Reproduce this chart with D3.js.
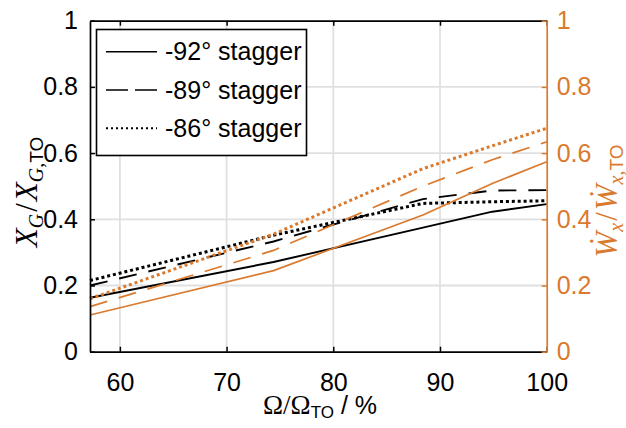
<!DOCTYPE html>
<html>
<head>
<meta charset="utf-8">
<script src="https://cdn.jsdelivr.net/npm/d3@7"></script>
<style>
  body { margin: 0; background: #fff; }
  svg { display: block; }
  text { font-family: "Liberation Sans", Arial, Helvetica, sans-serif; }
</style>
</head>
<body>
<svg id="chart" width="626" height="428"></svg>
<script>
// Rotor speed (% of take-off speed) at each operating point
const speedPct = [57.2, 74.4, 88.4, 94.9, 100];

// Normalised X_G (left axis) per stagger angle
const xg92 = [0.163, 0.271, 0.375, 0.423, 0.446];
const xg89 = [0.200, 0.333, 0.461, 0.487, 0.488];
const xg86 = [0.215, 0.352, 0.448, 0.453, 0.456];

// Normalised mass-flow rate W_x (right axis) per stagger angle
const wx92 = [0.111, 0.245, 0.413, 0.508, 0.574];
const wx89 = [0.136, 0.306, 0.500, 0.580, 0.634];
const wx86 = [0.160, 0.355, 0.553, 0.622, 0.675];

const staggerLabels = ["-92° stagger", "-89° stagger", "-86° stagger"];
const xTickValues = [60, 70, 80, 90, 100];
const yTickValues = [0, 0.2, 0.4, 0.6, 0.8, 1];

const BLACK = "#000000";
const ORANGE = "#DA7A2E";
const GRID = "#e0e0e0";
const FONT_PX = 25;
const SERIF = '"Liberation Serif", "DejaVu Serif", serif';

const plot = { left: 90, right: 546.7, top: 20.7, bottom: 351.7 };

const svg = d3.select("#chart");
svg.append("rect").attr("width", 626).attr("height", 428).attr("fill", "#fff");

const x = d3.scaleLinear().domain([57.2, 100]).range([plot.left, plot.right]);
const yL = d3.scaleLinear().domain([0, 1]).range([plot.bottom, plot.top]);
const yR = d3.scaleLinear().domain([0, 1]).range([plot.bottom, plot.top]);

// grid
const grid = svg.append("g").attr("stroke", GRID).attr("stroke-width", 1.8);
grid.selectAll("line.vx").data(xTickValues.filter(v => v < 100)).join("line")
  .attr("x1", d => x(d)).attr("x2", d => x(d))
  .attr("y1", plot.top).attr("y2", plot.bottom);
grid.selectAll("line.hy").data(yTickValues.filter(v => v > 0 && v < 1)).join("line")
  .attr("x1", plot.left).attr("x2", plot.right)
  .attr("y1", d => yL(d)).attr("y2", d => yL(d));

// series
const dashed = "18,12";
const dotted = "3,2.9";
const series = [
  { vals: xg92, y: yL, color: BLACK, dash: null, w: 1.9 },
  { vals: xg89, y: yL, color: BLACK, dash: dashed, w: 1.9 },
  { vals: xg86, y: yL, color: BLACK, dash: dotted, w: 3 },
  { vals: wx92, y: yR, color: ORANGE, dash: null, w: 1.7 },
  { vals: wx89, y: yR, color: ORANGE, dash: dashed, w: 1.7 },
  { vals: wx86, y: yR, color: ORANGE, dash: dotted, w: 3 }
];
const lines = svg.append("g").attr("fill", "none");
series.forEach(s => {
  const gen = d3.line().x((d, i) => x(speedPct[i])).y(d => s.y(d));
  lines.append("path")
    .attr("d", gen(s.vals))
    .attr("stroke", s.color)
    .attr("stroke-width", s.w)
    .attr("stroke-dasharray", s.dash)
    .attr("stroke-linejoin", "round");
});

// axes
function styleAxis(g, color) {
  g.selectAll("path.domain").attr("stroke", color).attr("stroke-width", 1.7);
  g.selectAll(".tick line").attr("stroke", color).attr("stroke-width", 1.5);
  g.selectAll(".tick text").attr("fill", color)
    .style("font-family", '"Liberation Sans", Arial, sans-serif')
    .style("font-size", FONT_PX + "px");
}

const gBottom = svg.append("g").attr("transform", `translate(0,${plot.bottom})`)
  .call(d3.axisBottom(x).tickValues(xTickValues).tickSizeInner(-5).tickSizeOuter(0).tickPadding(22));
styleAxis(gBottom, BLACK);

const gTop = svg.append("g").attr("transform", `translate(0,${plot.top})`)
  .call(d3.axisTop(x).tickValues(xTickValues).tickSizeInner(-5).tickSizeOuter(0).tickFormat(""));
styleAxis(gTop, BLACK);

const fmt = d => (d === 0 || d === 1) ? String(d) : d.toFixed(1);
const gLeft = svg.append("g").attr("transform", `translate(${plot.left},0)`)
  .call(d3.axisLeft(yL).tickValues(yTickValues).tickSizeInner(-5).tickSizeOuter(0).tickPadding(12).tickFormat(fmt));
styleAxis(gLeft, BLACK);

const gRight = svg.append("g").attr("transform", `translate(${plot.right},0)`)
  .call(d3.axisRight(yR).tickValues(yTickValues).tickSizeInner(-5).tickSizeOuter(0).tickPadding(10).tickFormat(fmt));
styleAxis(gRight, ORANGE);

// axis titles
const xTitle = svg.append("text")
  .attr("x", 320).attr("y", 414)
  .attr("text-anchor", "middle")
  .style("font-size", FONT_PX + "px").attr("fill", BLACK);
xTitle.append("tspan").style("font-family", SERIF).style("font-size", "27px").text("Ω/Ω");
xTitle.append("tspan").attr("dy", 4).style("font-size", "17px").text("TO");
xTitle.append("tspan").attr("dy", -4).text(" / %");

function fractionTitle(sel, main, sub) {
  sel.append("tspan").style("font-family", SERIF).style("font-style", "italic").text(main);
  sel.append("tspan").attr("dy", 6).style("font-family", SERIF).style("font-style", "italic")
    .style("font-size", "20px").text(sub);
  sel.append("tspan").attr("dy", -6).attr("dx", 2).style("font-family", SERIF).text("/");
  sel.append("tspan").attr("dx", 2).style("font-family", SERIF).style("font-style", "italic").text(main);
  sel.append("tspan").attr("dy", 6).style("font-family", SERIF).style("font-style", "italic")
    .style("font-size", "20px").text(sub + ",");
  sel.append("tspan").style("font-size", "19px").text("TO");
}

const yTitleL = svg.append("text")
  .attr("transform", "translate(37,192) rotate(-90)")
  .attr("text-anchor", "middle")
  .style("font-size", "31px").attr("fill", BLACK);
fractionTitle(yTitleL, "X", "G");

const yTitleR = svg.append("text")
  .attr("transform", "translate(617,201) rotate(-90)")
  .attr("text-anchor", "middle")
  .style("font-size", "31px").attr("fill", ORANGE);
fractionTitle(yTitleR, "Ẇ", "x");

// legend
const legend = svg.append("g");
legend.append("rect")
  .attr("x", 96.5).attr("y", 29.5).attr("width", 210).attr("height", 126)
  .attr("fill", "#fff").attr("stroke", BLACK).attr("stroke-width", 1.6);
const legendDash = [null, "22,7", "2,3"];
const legendY = [51.7, 90, 128.3];
staggerLabels.forEach((lab, i) => {
  legend.append("line")
    .attr("x1", 106).attr("x2", 157)
    .attr("y1", legendY[i]).attr("y2", legendY[i])
    .attr("stroke", BLACK).attr("stroke-width", i === 2 ? 2 : 1.5)
    .attr("stroke-dasharray", legendDash[i]);
  legend.append("text")
    .attr("x", 165).attr("y", legendY[i]).attr("dy", "0.35em")
    .style("font-size", FONT_PX + "px").attr("fill", BLACK)
    .text(lab);
});
</script>
</body>
</html>
